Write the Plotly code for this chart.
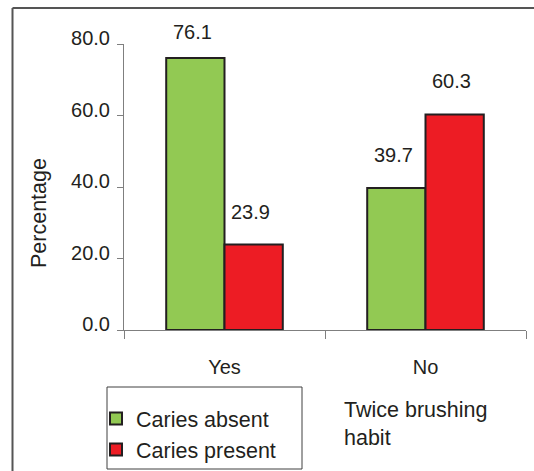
import plotly.graph_objects as go

# Data
categories = ["Yes", "No"]
caries_absent = [76.1, 39.7]
caries_present = [23.9, 60.3]
series_names = ["Caries absent", "Caries present"]
y_ticks = [0, 20, 40, 60, 80]

W, H = 534, 471
L, R, T, B = 124, 8, 44, 141
PW, PH = W - L - R, H - T - B

def px(x):
    return (x - L) / PW

def py(y):
    return (H - B - y) / PH

FONT = "Liberation Sans, Arial, sans-serif"
TXT = "#231F20"
AXIS = "#7f7f7f"

fig = go.Figure()
fig.add_trace(go.Bar(
    x=categories, y=caries_absent, name=series_names[0],
    marker=dict(color="#92C953", line=dict(color=TXT, width=2)),
))
fig.add_trace(go.Bar(
    x=categories, y=caries_present, name=series_names[1],
    marker=dict(color="#ED1C24", line=dict(color=TXT, width=2)),
))

# value labels above each bar
annotations = []
half = 29
for vals, side in ((caries_absent, -1), (caries_present, 1)):
    for cat, v in zip(categories, vals):
        gap = 13 if v > 75 else 20
        annotations.append(dict(
            x=cat, y=v, xref="x", yref="y", text=f"{v:.1f}",
            showarrow=False, xshift=side * half - 3, yshift=gap,
            yanchor="bottom", font=dict(size=20, color=TXT, family=FONT),
        ))

# y-axis title
annotations.append(dict(
    x=px(39), y=py(213), xref="paper", yref="paper", text="Percentage",
    textangle=-90, showarrow=False, xanchor="center", yanchor="middle",
    font=dict(size=21.5, color=TXT, family=FONT),
))
# x-axis title beside the legend
annotations.append(dict(
    x=px(342), y=py(424), xref="paper", yref="paper",
    text="Twice brushing<br>habit", align="left",
    showarrow=False, xanchor="left", yanchor="middle",
    font=dict(size=21.5, color=TXT, family=FONT),
))

shapes = [
    # outer frame (top and left edges)
    dict(type="line", xref="paper", yref="paper", x0=px(12.5), x1=px(540),
         y0=py(8), y1=py(8), line=dict(color="#555555", width=2)),
    dict(type="line", xref="paper", yref="paper", x0=px(12.5), x1=px(12.5),
         y0=py(8), y1=py(480), line=dict(color="#555555", width=2)),
    # legend box
    dict(type="rect", xref="paper", yref="paper", x0=px(107), x1=px(302),
         y0=py(469), y1=py(387), line=dict(color="#404040", width=1)),
]

fig.update_layout(
    width=W, height=H,
    margin=dict(l=L, r=R, t=T, b=B, pad=0, autoexpand=False),
    paper_bgcolor="white", plot_bgcolor="white",
    barmode="group", bargap=0.42, bargroupgap=0,
    font=dict(family=FONT, size=20, color=TXT),
    showlegend=True,
    legend=dict(
        xref="container", yref="container",
        x=96 / W, y=(H - 398) / H, xanchor="left", yanchor="top",
        bgcolor="rgba(0,0,0,0)", borderwidth=0,
        font=dict(size=21.5, color=TXT, family=FONT),
        traceorder="normal",
    ),
    annotations=annotations,
    shapes=shapes,
)
fig.update_yaxes(
    range=[0, 80], tickvals=y_ticks, tickformat=".1f",
    showline=True, linecolor=AXIS, linewidth=1,
    ticks="outside", ticklen=6, tickcolor=AXIS,
    showgrid=False, zeroline=False, ticklabelstandoff=3, ticklabelshift=-6,
    tickfont=dict(size=20, color=TXT, family=FONT),
)
fig.update_xaxes(
    type="category", showline=True, linecolor=AXIS, linewidth=1,
    ticks="outside", ticklen=8, tickcolor=AXIS, tickson="boundaries",
    showgrid=False, ticklabelstandoff=19,
    tickfont=dict(size=20, color=TXT, family=FONT),
)

fig.write_html("out.html")
